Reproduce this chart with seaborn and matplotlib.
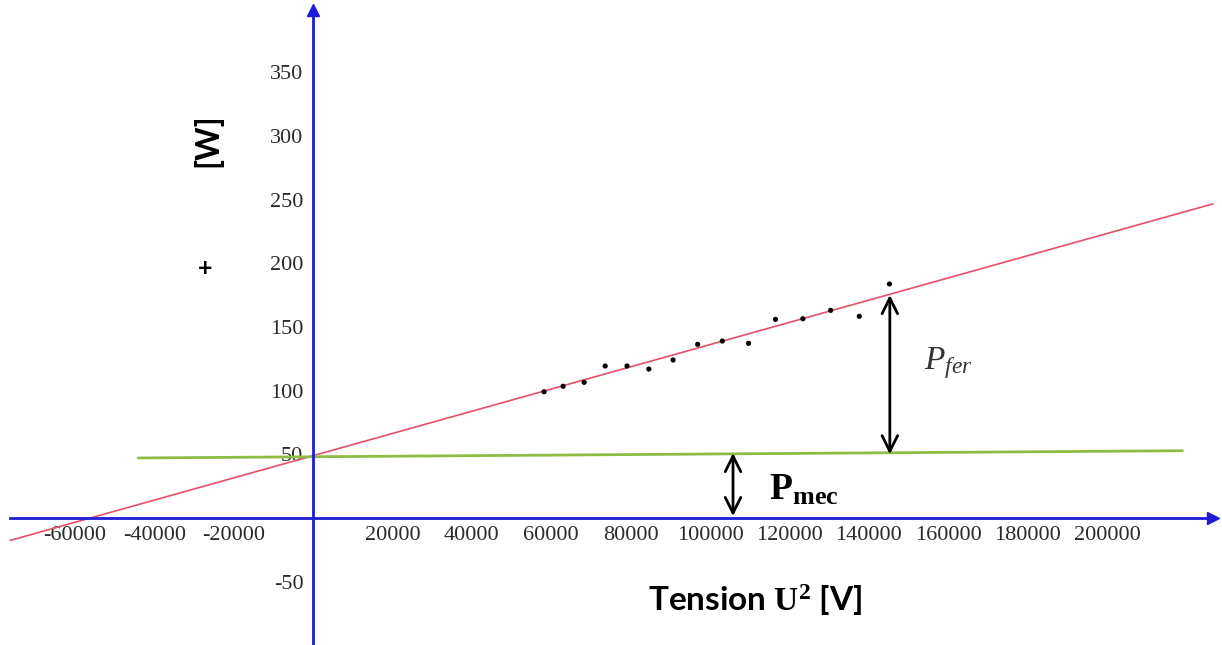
import numpy as np
import pandas as pd
import matplotlib
matplotlib.use("Agg")
import matplotlib.pyplot as plt
import seaborn as sns

# =====================================================
# DATA
# =====================================================

u2 = [58200, 63000, 68300, 73600, 79100, 84600, 90700, 96900,
      103100, 109700, 116500, 123400, 130400, 137600, 145200]
power = [99.1, 103.4, 106.5, 119.3, 119.3, 116.9, 124.0, 136.3,
         138.9, 137.1, 155.9, 156.4, 163.0, 158.3, 183.7]

# linear fit of P = f(U^2)
fit_intercept = 48.9
fit_slope = 0.000872

# P_mec line
pmec_x = [-44000, 219000]
pmec_y = [47.1, 52.8]

x_ticks = [-60000, -40000, -20000, 20000, 40000, 60000, 80000, 100000,
           120000, 140000, 160000, 180000, 200000, 220000]
x_labels = [str(v) for v in x_ticks[:-1]] + [""]
y_ticks = [-50, 50, 100, 150, 200, 250, 300, 350]
y_labels = [str(v) for v in y_ticks]

# arrows (x position, y start, y end)
pfer_arrow = (145300, 175, 50)
pmec_arrow = (105800, 51, 1.5)

# =====================================================
# SETTINGS
# =====================================================

sns.set_theme(style="white")
plt.rcParams["font.family"] = ["Liberation Serif", "DejaVu Serif"]
plt.rcParams["mathtext.fontset"] = "custom"
plt.rcParams["mathtext.rm"] = "Liberation Serif"
plt.rcParams["mathtext.it"] = "Liberation Serif:italic"
plt.rcParams["mathtext.bf"] = "Liberation Serif:bold"

BLUE = "#1c1cd8"
X_LO, X_HI = -76300, 226700
Y_LO, Y_HI = -99.7, 399

fig = plt.figure(figsize=(12.22, 6.45), dpi=100)
ax = fig.add_axes([0, 0, 1, 1])
ax.set_xlim(-78840, 228970)
ax.set_ylim(-99.7, 406.6)

# =====================================================
# AXES THROUGH ORIGIN
# =====================================================

for side in ["top", "right"]:
    ax.spines[side].set_visible(False)
ax.spines["left"].set_position(("data", 0))
ax.spines["bottom"].set_position(("data", 0))
ax.spines["bottom"].set_bounds(X_LO, X_HI)
ax.spines["left"].set_bounds(Y_LO, Y_HI)
for side in ["left", "bottom"]:
    ax.spines[side].set_color(BLUE)
    ax.spines[side].set_linewidth(2)

ax.plot(X_HI, 0, marker=">", color=BLUE, ms=8, clip_on=False, zorder=5)
ax.plot(0, Y_HI, marker="^", color=BLUE, ms=8, clip_on=False, zorder=5)

ax.set_xticks(x_ticks)
ax.set_xticklabels(x_labels)
ax.set_yticks(y_ticks)
ax.set_yticklabels(y_labels)
ax.tick_params(
    direction="inout",
    length=10,
    width=1.2,
    color=BLUE,
    labelsize=16,
    labelcolor="#2a2a2a"
)
ax.tick_params(axis="x", pad=1)
ax.tick_params(axis="y", pad=2)
ax.grid(False)

# =====================================================
# LINES AND POINTS
# =====================================================

fit_x = np.array([X_LO, X_HI])
fit_df = pd.DataFrame({"x": fit_x, "y": fit_intercept + fit_slope * fit_x})
sns.lineplot(data=fit_df, x="x", y="y", color="#e4506a", linewidth=1.2, ax=ax)

sns.lineplot(x=pmec_x, y=pmec_y, color="#8dbd45", linewidth=2, ax=ax)

sns.scatterplot(x=u2, y=power, color="black", s=14, edgecolor="none", ax=ax, zorder=4)

ax.set_xlabel("")
ax.set_ylabel("")

# =====================================================
# ANNOTATIONS
# =====================================================

for xa, y0, y1 in [pfer_arrow, pmec_arrow]:
    ax.annotate(
        "",
        xy=(xa, y1),
        xytext=(xa, y0),
        arrowprops=dict(arrowstyle="<->", color="black", lw=2,
                        mutation_scale=28, shrinkA=0, shrinkB=0)
    )

ax.text(154000, 122, r"$P_{fer}$", fontsize=24, color="#333333",
        ha="left", va="center")
ax.text(114800, 22, r"$\mathbf{P}_{\mathbf{mec}}$", fontsize=27,
        color="black", ha="left", va="center")

ax.text(0.618, 0.070, r"Tension $\mathbf{U}^{\mathbf{2}}$ [V]", transform=ax.transAxes,
        fontsize=24, fontweight="bold", family="Lato",
        ha="center", va="center", color="black")
ax.text(0.170, 0.783, "[W]", transform=ax.transAxes, rotation=90,
        fontsize=23, fontweight="bold", family="Lato",
        ha="center", va="center", color="black")
ax.text(0.168, 0.584, "+", transform=ax.transAxes,
        fontsize=18, fontweight="bold", family="Lato",
        ha="center", va="center", color="black")

fig.savefig("out.png", dpi=100)
